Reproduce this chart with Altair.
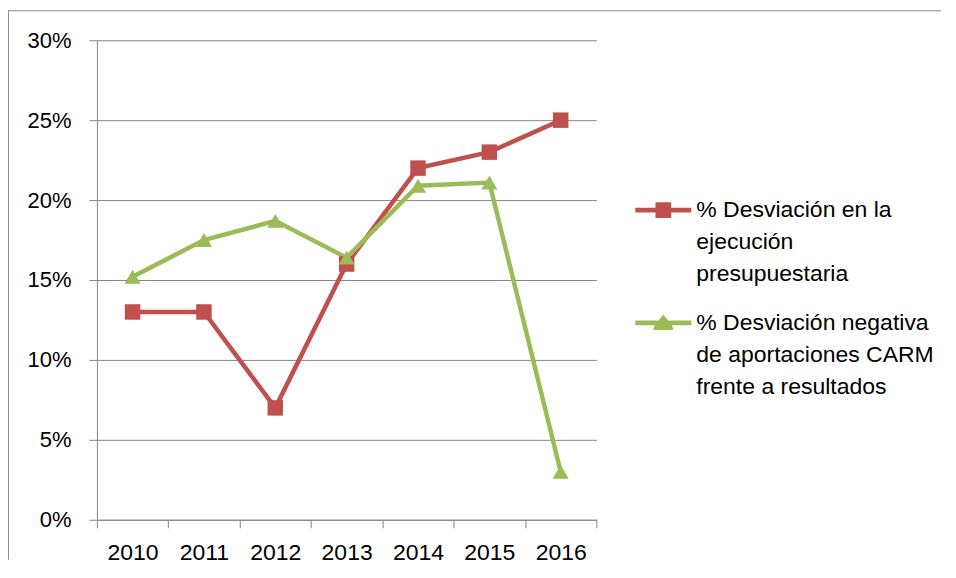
import altair as alt
import pandas as pd

years = ["2010", "2011", "2012", "2013", "2014", "2015", "2016"]
series_names = [
    "% Desviación en la\nejecución\npresupuestaria",
    "% Desviación negativa\nde aportaciones CARM\nfrente a resultados",
]
red_values = [0.13, 0.13, 0.07, 0.16, 0.22, 0.23, 0.25]
green_values = [0.152, 0.175, 0.187, 0.164, 0.209, 0.211, 0.03]
colors = ["#C0504D", "#9BBB59"]
y_ticks = [0, 0.05, 0.10, 0.15, 0.20, 0.25, 0.30]

rows = []
for y, v in zip(years, red_values):
    rows.append({"year": y, "series": series_names[0], "value": v})
for y, v in zip(years, green_values):
    rows.append({"year": y, "series": series_names[1], "value": v})
df = pd.DataFrame(rows)
legend_df = pd.DataFrame({"series": series_names})

FONT = "Liberation Sans"
GRAY = "#868686"

x_enc = alt.X(
    "year:O",
    bandPosition=0.5,
    scale=alt.Scale(type="band", paddingInner=0, paddingOuter=0),
    axis=alt.Axis(
        title=None, tickBand="extent", labelAngle=0, grid=False,
        domainColor=GRAY, tickColor=GRAY, tickSize=8, labelPadding=14,
        labelFontSize=23, labelFont=FONT, labelColor="#000000",
    ),
)
y_scale = alt.Scale(domain=[0, 0.3], nice=False)
y_enc = alt.Y(
    "value:Q",
    scale=y_scale,
    axis=alt.Axis(
        title=None, values=y_ticks, format=".0%", grid=True, gridColor=GRAY,
        domainColor=GRAY, tickColor=GRAY, tickSize=8, labelPadding=18,
        labelFontSize=22, labelFont=FONT, labelColor="#000000",
    ),
)

color_scale = alt.Scale(domain=series_names, range=colors)

lines = alt.Chart(df).mark_line(strokeWidth=4.5).encode(
    x=x_enc, y=y_enc, color=alt.Color("series:N", scale=color_scale, legend=None),
)
points = alt.Chart(df).mark_point(filled=True, opacity=1, strokeWidth=0).encode(
    x=x_enc, y=alt.Y("value:Q", scale=y_scale),
    color=alt.Color("series:N", scale=color_scale, legend=None),
    shape=alt.Shape("series:N", scale=alt.Scale(domain=series_names, range=["square", "triangle-up"]), legend=None),
    size=alt.Size("series:N", scale=alt.Scale(domain=series_names, range=[240, 260]), legend=None),
)
plot = alt.layer(lines, points)

# legend (line + marker symbol, multi-line labels)
sq_path = "M-1,-0.085H-0.28V-0.28H0.28V-0.085H1V0.085H0.28V0.28H-0.28V0.085H-1Z"
tri_path = "M-1,-0.085H-0.17L0,-0.3L0.17,-0.085H1V0.085H0.31L0.36,0.25H-0.36L-0.31,0.085H-1Z"
leg_y = alt.Y("series:N", scale=alt.Scale(type="point", padding=0, domain=series_names, range=[170, 283]), axis=None)

leg_symbols = alt.Chart(legend_df).mark_point(
    filled=True, opacity=1, strokeWidth=0, size=3136
).encode(
    x=alt.value(567), y=leg_y,
    color=alt.Color("series:N", scale=color_scale, legend=None),
    shape=alt.Shape("series:N", scale=alt.Scale(domain=series_names, range=[sq_path, tri_path]), legend=None),
)
leg_text = alt.Chart(legend_df).mark_text(
    align="left", baseline="alphabetic", dy=7, fontSize=23, font=FONT,
    lineHeight=32, lineBreak="\n", color="#000000",
).encode(
    x=alt.value(600), y=leg_y, text="series:N",
)
legend = alt.layer(leg_symbols, leg_text)

# chart-area border (top and left edges visible in the reference)
frame_df = pd.DataFrame({"a": [0]})
frame_top = alt.Chart(frame_df).mark_rule(color="#8c8c8c", strokeWidth=1).encode(
    x=alt.value(-89), x2=alt.value(845), y=alt.value(-29.5), y2=alt.value(-29.5)
)
frame_left = alt.Chart(frame_df).mark_rule(color="#8c8c8c", strokeWidth=1).encode(
    x=alt.value(-88.5), x2=alt.value(-88.5), y=alt.value(-30), y2=alt.value(520)
)

chart = alt.layer(frame_top, frame_left, plot, legend).resolve_scale(
    y="independent", shape="independent"
).properties(
    width=500, height=480,
    autosize=alt.AutoSizeParams(type="none"),
    padding={"left": 89, "top": 32, "right": 352, "bottom": 45},
).configure_view(stroke=None)

chart.save("out.html", embed_options={"renderer": "svg", "actions": False})
